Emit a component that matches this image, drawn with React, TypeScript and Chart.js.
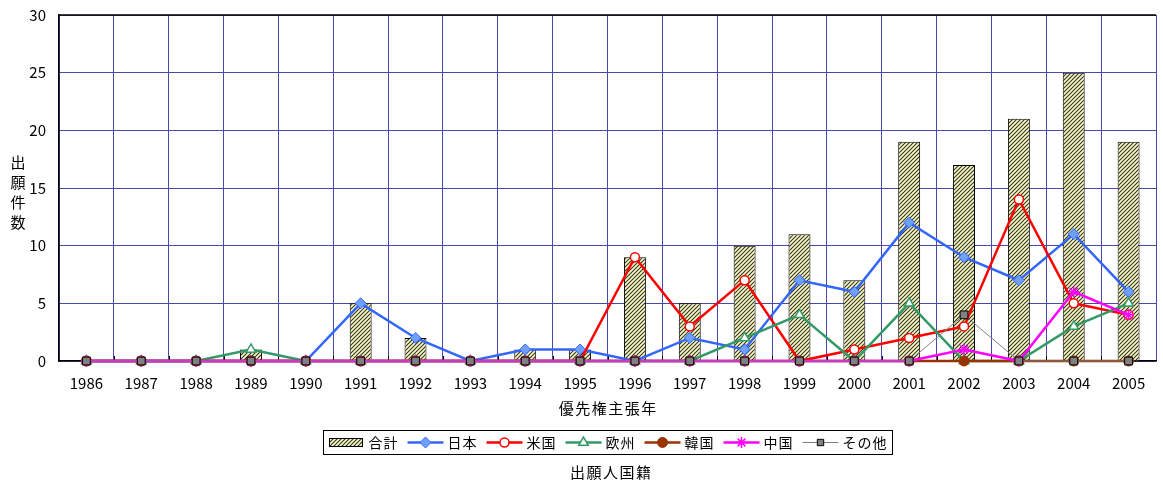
import React, { useEffect, useRef } from 'react';
import { Chart, registerables } from 'chart.js';

Chart.register(...registerables);

const FONT = '"Noto Sans CJK JP", "Noto Sans", sans-serif';

// ---- data ----
const years = ['1986', '1987', '1988', '1989', '1990', '1991', '1992', '1993', '1994', '1995',
  '1996', '1997', '1998', '1999', '2000', '2001', '2002', '2003', '2004', '2005'];
const totalCounts = [0, 0, 0, 1, 0, 5, 2, 0, 1, 1, 9, 5, 10, 11, 7, 19, 17, 21, 25, 19];
const japanCounts = [0, 0, 0, 0, 0, 5, 2, 0, 1, 1, 0, 2, 1, 7, 6, 12, 9, 7, 11, 6];
const usCounts = [0, 0, 0, 0, 0, 0, 0, 0, 0, 0, 9, 3, 7, 0, 1, 2, 3, 14, 5, 4];
const europeCounts = [0, 0, 0, 1, 0, 0, 0, 0, 0, 0, 0, 0, 2, 4, 0, 5, 0, 0, 3, 5];
const koreaCounts = [0, 0, 0, 0, 0, 0, 0, 0, 0, 0, 0, 0, 0, 0, 0, 0, 0, 0, 0, 0];
const chinaCounts = [0, 0, 0, 0, 0, 0, 0, 0, 0, 0, 0, 0, 0, 0, 0, 0, 1, 0, 6, 4];
const otherCounts = [0, 0, 0, 0, 0, 0, 0, 0, 0, 0, 0, 0, 0, 0, 0, 0, 4, 0, 0, 0];
const yTickValues = [0, 5, 10, 15, 20, 25, 30];
const seriesNames = ['合計', '日本', '米国', '欧州', '韓国', '中国', 'その他'];
const yAxisTitle = '出願件数';
const xAxisTitle = '優先権主張年';
const legendTitle = '出願人国籍';

// ---- styles ----
type LineStyle = {
  color: string; width: number; point: string; radius: number;
  pointFill: string; pointBorder: string; pointBorderWidth: number;
};
const lineStyles: LineStyle[] = [
  { color: '#3366ff', width: 2.5, point: 'rectRot', radius: 5.5, pointFill: '#6fa0ff', pointBorder: '#3366ff', pointBorderWidth: 1 },
  { color: '#ff0000', width: 2.5, point: 'circle', radius: 4.5, pointFill: '#ffffff', pointBorder: '#ff0000', pointBorderWidth: 1.5 },
  { color: '#339966', width: 2.5, point: 'triangle', radius: 5.5, pointFill: '#ffffff', pointBorder: '#339966', pointBorderWidth: 1.5 },
  { color: '#993300', width: 2.5, point: 'circle', radius: 5, pointFill: '#993300', pointBorder: '#993300', pointBorderWidth: 1 },
  { color: '#ff00ff', width: 2.5, point: 'star', radius: 5.5, pointFill: '#ff00ff', pointBorder: '#ff00ff', pointBorderWidth: 1.5 },
  { color: '#808080', width: 1, point: 'rect', radius: 5.5, pointFill: '#808080', pointBorder: '#000000', pointBorderWidth: 1 },
];
const lineSeries = [japanCounts, usCounts, europeCounts, koreaCounts, chinaCounts, otherCounts];
const GRID = '#4a4aa6';

function makePattern(): CanvasPattern | string {
  const c = document.createElement('canvas');
  c.width = 4; c.height = 4;
  const g = c.getContext('2d');
  if (!g) return '#eeeebb';
  g.fillStyle = '#fbfbc6';
  g.fillRect(0, 0, 4, 4);
  g.strokeStyle = '#333326';
  g.lineWidth = 1.1;
  g.beginPath();
  g.moveTo(-1, 5); g.lineTo(5, -1);
  g.moveTo(-1, 1); g.lineTo(1, -1);
  g.moveTo(3, 5); g.lineTo(5, 3);
  g.stroke();
  return g.createPattern(c, 'repeat') || '#eeeebb';
}

function drawMarker(ctx: CanvasRenderingContext2D, s: LineStyle, x: number, y: number) {
  const r = s.radius;
  ctx.save();
  ctx.fillStyle = s.pointFill;
  ctx.strokeStyle = s.pointBorder;
  ctx.lineWidth = s.pointBorderWidth;
  ctx.beginPath();
  if (s.point === 'rectRot') {
    ctx.moveTo(x, y - r); ctx.lineTo(x + r, y); ctx.lineTo(x, y + r); ctx.lineTo(x - r, y); ctx.closePath();
  } else if (s.point === 'circle') {
    ctx.arc(x, y, r, 0, Math.PI * 2);
  } else if (s.point === 'triangle') {
    ctx.moveTo(x, y - r); ctx.lineTo(x + r * 0.866, y + r * 0.5); ctx.lineTo(x - r * 0.866, y + r * 0.5); ctx.closePath();
  } else if (s.point === 'rect') {
    const a = r * Math.SQRT1_2;
    ctx.rect(x - a, y - a, 2 * a, 2 * a);
  } else if (s.point === 'star') {
    const a = r * Math.SQRT1_2;
    ctx.moveTo(x, y - r); ctx.lineTo(x, y + r);
    ctx.moveTo(x - r, y); ctx.lineTo(x + r, y);
    ctx.moveTo(x - a, y - a); ctx.lineTo(x + a, y + a);
    ctx.moveTo(x - a, y + a); ctx.lineTo(x + a, y - a);
  }
  if (s.point !== 'star') ctx.fill();
  ctx.stroke();
  ctx.restore();
}

function spacedText(ctx: CanvasRenderingContext2D, text: string, x: number, y: number, spacing: number, align: 'center' | 'left') {
  const chars = Array.from(text);
  const widths = chars.map((c) => ctx.measureText(c).width);
  const total = widths.reduce((a, b) => a + b, 0) + spacing * (chars.length - 1);
  let px = align === 'center' ? x - total / 2 : x;
  ctx.textAlign = 'left';
  ctx.textBaseline = 'middle';
  chars.forEach((c, i) => { ctx.fillText(c, px, y); px += widths[i] + spacing; });
  return total;
}

function textWidth(ctx: CanvasRenderingContext2D, text: string, spacing: number) {
  const chars = Array.from(text);
  return chars.reduce((a, c) => a + ctx.measureText(c).width, 0) + spacing * (chars.length - 1);
}

export default function App() {
  const ref = useRef<HTMLCanvasElement | null>(null);

  useEffect(() => {
    const canvas = ref.current;
    if (!canvas) return;
    const pattern = makePattern();

    const decor = {
      id: 'decor',
      beforeDatasetsDraw(chart: any) {
        const { ctx, chartArea: a } = chart;
        const xs = chart.scales.x;
        const step = xs.getPixelForValue(1) - xs.getPixelForValue(0);
        ctx.save();
        ctx.strokeStyle = '#000';
        ctx.lineWidth = 1;
        for (let i = 1; i < years.length; i++) {
          const px = Math.round(xs.getPixelForValue(i) - step / 2) + 0.5;
          ctx.beginPath();
          ctx.moveTo(px, a.bottom);
          ctx.lineTo(px, a.bottom - 5);
          ctx.stroke();
        }
        ctx.restore();
      },
      afterDraw(chart: any) {
        const { ctx, chartArea: a } = chart;
        ctx.save();
        // top frame line
        ctx.strokeStyle = '#000';
        ctx.lineWidth = 1.5;
        ctx.beginPath();
        ctx.moveTo(a.left, a.top);
        ctx.lineTo(a.right, a.top);
        ctx.stroke();

        ctx.fillStyle = '#000';
        // y axis title (stacked)
        ctx.font = `15px ${FONT}`;
        ctx.textAlign = 'center';
        ctx.textBaseline = 'middle';
        Array.from(yAxisTitle).forEach((c, i) => {
          ctx.fillText(c, 18, 162 + i * 20);
        });
        const cx = (a.left + a.right) / 2;
        // x axis title
        spacedText(ctx, xAxisTitle, cx, 408, 1.5, 'center');
        // legend
        ctx.font = `14px ${FONT}`;
        const sp = 1;
        const swatchW = 33, lineW = 36, gapMarkText = 4, gapItem = 10;
        let content = swatchW + 6 + textWidth(ctx, seriesNames[0], sp);
        for (let i = 1; i < seriesNames.length; i++) {
          content += gapItem + lineW + gapMarkText + textWidth(ctx, seriesNames[i], sp);
        }
        const boxW = content + 12;
        const boxL = Math.round(cx - boxW / 2) + 0.5;
        const boxT = 430.5, boxH = 24;
        const ly = boxT + boxH / 2;
        ctx.strokeStyle = '#000';
        ctx.lineWidth = 1;
        ctx.strokeRect(boxL, boxT, boxW, boxH);
        let x = boxL + 6;
        // bar swatch
        ctx.fillStyle = pattern as any;
        ctx.fillRect(x, ly - 4, swatchW, 8);
        ctx.strokeStyle = '#000';
        ctx.strokeRect(x, ly - 4, swatchW, 8);
        x += swatchW + 6;
        ctx.fillStyle = '#000';
        x += spacedText(ctx, seriesNames[0], x, ly, sp, 'left');
        for (let i = 1; i < seriesNames.length; i++) {
          const s = lineStyles[i - 1];
          x += gapItem;
          ctx.strokeStyle = s.color;
          ctx.lineWidth = s.width;
          ctx.beginPath();
          ctx.moveTo(x, ly);
          ctx.lineTo(x + lineW, ly);
          ctx.stroke();
          drawMarker(ctx, { ...s, radius: s.point === 'rect' ? 4.5 : s.radius }, x + lineW / 2, ly);
          x += lineW + gapMarkText;
          ctx.fillStyle = '#000';
          ctx.font = `14px ${FONT}`;
          x += spacedText(ctx, seriesNames[i], x, ly, sp, 'left');
        }
        // legend title
        ctx.font = `15px ${FONT}`;
        spacedText(ctx, legendTitle, cx + 3, 472, 1.5, 'center');
        ctx.restore();
      },
    };

    const datasets: any[] = [
      {
        type: 'bar',
        label: seriesNames[0],
        data: totalCounts,
        backgroundColor: pattern,
        borderColor: '#000',
        borderWidth: 1,
        barPercentage: 0.4,
        categoryPercentage: 1,
        order: 10,
      },
      ...lineSeries.map((d, i) => {
        const s = lineStyles[i];
        return {
          type: 'line',
          label: seriesNames[i + 1],
          data: d,
          borderColor: s.color,
          borderWidth: s.width,
          backgroundColor: s.pointFill,
          pointStyle: s.point,
          pointRadius: s.radius,
          pointBackgroundColor: s.pointFill,
          pointBorderColor: s.pointBorder,
          pointBorderWidth: s.pointBorderWidth,
          tension: 0,
          fill: false,
          clip: false,
          order: 6 - i,
        };
      }),
    ];

    const chart = new Chart(canvas, {
      type: 'bar',
      data: { labels: years, datasets },
      options: {
        responsive: false,
        animation: false,
        events: [],
        layout: { padding: { top: 15, left: 0, right: 0, bottom: 0 } },
        plugins: { legend: { display: false }, tooltip: { enabled: false } },
        font: { family: FONT },
        scales: {
          x: {
            offset: true,
            grid: { offset: true, color: GRID, lineWidth: 1, drawTicks: false },
            border: { color: '#000', width: 1.5 },
            ticks: { font: { size: 15, family: FONT }, color: '#000', padding: 13, maxRotation: 0, autoSkip: false },
            afterFit: (s: any) => { s.height = 121; s.paddingLeft = 0; s.paddingRight = 0; },
          },
          y: {
            min: 0,
            max: 30,
            afterBuildTicks: (s: any) => { s.ticks = yTickValues.map((v) => ({ value: v })); },
            ticks: { font: { size: 15, family: FONT }, color: '#000', padding: 13 },
            grid: { color: GRID, lineWidth: 1, drawTicks: false },
            border: { color: '#000', width: 1.5 },
            afterFit: (s: any) => { s.width = 59; s.paddingTop = 0; s.paddingBottom = 0; },
          },
        },
      } as any,
      plugins: [decor],
    });
    return () => chart.destroy();
  }, []);

  return (
    <div style={{ position: 'fixed', left: 0, top: 0, width: 1163, height: 482, background: '#fff' }}>
      <canvas ref={ref} width={1163} height={482} style={{ display: 'block', width: 1163, height: 482 }} />
    </div>
  );
}
